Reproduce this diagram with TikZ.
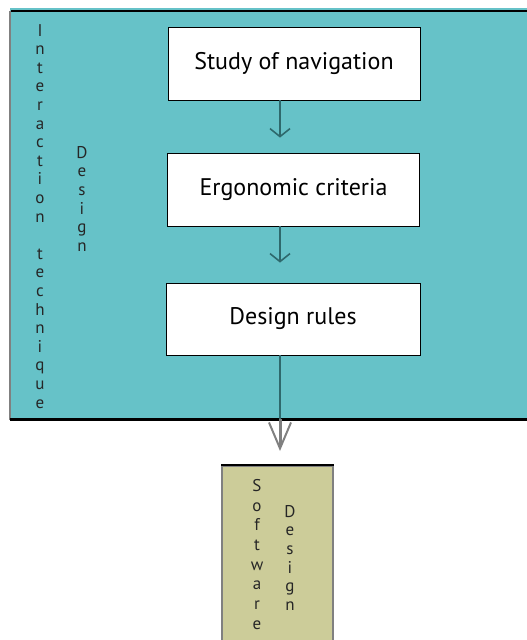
\documentclass[tikz,border=0pt]{standalone}
\usepackage{fontspec}
\setmainfont{PT Sans}
\usetikzlibrary{arrows.meta}

\begin{document}
\begin{tikzpicture}[x=1pt,y=-1pt,
    stepbox/.style={draw=black, thick, fill=white, minimum width=252pt, minimum height=73pt, font=\fontsize{24}{28}\selectfont},
    letters/.style={align=center, inner sep=0pt, anchor=north, text=black!85, font=\fontsize{17}{18.6}\selectfont},
    flow/.style={draw=arrowteal, line width=2pt, -{Straight Barb[length=8pt,width=20pt,line width=1.6pt]}}]

    \definecolor{designteal}{RGB}{102,194,200}
    \definecolor{arrowteal}{RGB}{46,104,108}
    \definecolor{softkhaki}{RGB}{204,204,153}
    \useasboundingbox (0,0) rectangle (527,640);
    \clip (0,0) rectangle (527,640);

    % Draw the interaction design area
    \fill[designteal] (10,8) rectangle (540,419);
    \draw[gray, line width=2pt] (10,11) -- (10,420);
    \draw[black, line width=2pt] (11,11) -- (540,11);
    \draw[black, line width=3pt] (10,419) -- (540,419);

    % Draw the vertical labels
    \node[letters] (inter) at (40,24) {I\\n\\t\\e\\r\\a\\c\\t\\i\\o\\n\\~\\t\\e\\c\\h\\n\\i\\q\\u\\e};
    \node[letters] (design) at (82,146) {D\\e\\s\\i\\g\\n};

    % Draw the steps
    \node[stepbox] (study) at (294,63.5) {Study of navigation};
    \node[stepbox] (ergo) at (293.5,189.5) {Ergonomic criteria};
    \node[stepbox, minimum width=254pt, minimum height=72pt] (rules) at (293,319) {Design rules};

    % Draw the software design box
    \node[draw=gray, line width=1.5pt, fill=softkhaki, minimum width=111pt, minimum height=200pt, anchor=north, inner sep=0pt] (soft) at (277.5,465) {};
    \draw[black, line width=1.5pt] (soft.north west) -- (soft.north east);
    \node[letters, font=\fontsize{17}{19.7}\selectfont] (softw) at (257,479) {S\\o\\f\\t\\w\\a\\r\\e};
    \node[letters] (softd) at (290,505) {D\\e\\s\\i\\g\\n};

    % Draw the arrows
    \coordinate (axis) at (280,0);
    \coordinate (exit) at (280,419);
    \draw[flow, shorten >=15pt] (study.south -| axis) -- (ergo.north -| axis);
    \draw[flow, shorten >=20pt] (ergo.south -| axis) -- (rules.north -| axis);
    \draw[arrowteal, line width=2pt] (rules.south -| axis) -- (exit);
    \draw[gray, line width=3pt, shorten >=14pt, -{Straight Barb[length=26pt,width=22pt,line width=2pt]}] (exit) -- (soft.north -| axis);

\end{tikzpicture}
\end{document}
